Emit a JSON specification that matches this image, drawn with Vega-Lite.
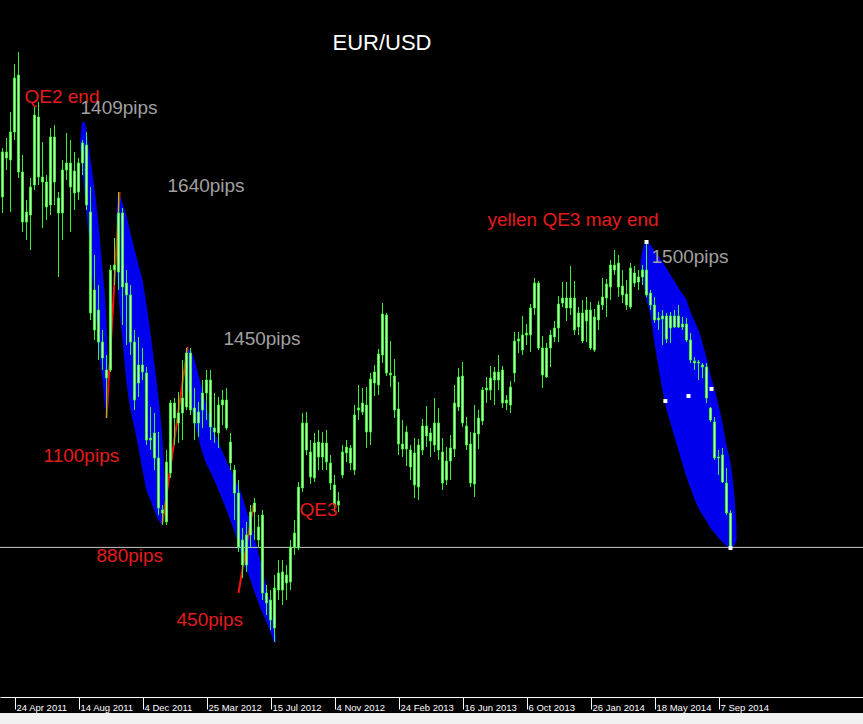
{
"$schema":"https://vega.github.io/schema/vega-lite/v6.json",
"width":863,"height":713,
"autosize":{"type":"none"},
"padding":{"left":0,"right":0,"top":0,"bottom":11},
"background":"#f0f0f0",
"config":{"view":{"fill":"#000000","stroke":null},"axis":{"grid":false}},
"datasets":{
"candles":[
{"date":"2011-04-03","open":1.4265,"high":1.4510,"low":1.4185,"close":1.4490},
{"date":"2011-04-10","open":1.4490,"high":1.4560,"low":1.4400,"close":1.4460},
{"date":"2011-04-17","open":1.4450,"high":1.4690,"low":1.4190,"close":1.4590},
{"date":"2011-04-24","open":1.4590,"high":1.4930,"low":1.4550,"close":1.4860},
{"date":"2011-05-01","open":1.4875,"high":1.4990,"low":1.4360,"close":1.4390},
{"date":"2011-05-08","open":1.4390,"high":1.4475,"low":1.4090,"close":1.4140},
{"date":"2011-05-15","open":1.4140,"high":1.4250,"low":1.4050,"close":1.4190},
{"date":"2011-05-22","open":1.4175,"high":1.4360,"low":1.4000,"close":1.4315},
{"date":"2011-05-29","open":1.4325,"high":1.4715,"low":1.4300,"close":1.4675},
{"date":"2011-06-05","open":1.4665,"high":1.4740,"low":1.4325,"close":1.4365},
{"date":"2011-06-12","open":1.4365,"high":1.4540,"low":1.4110,"close":1.4340},
{"date":"2011-06-19","open":1.4340,"high":1.4375,"low":1.4150,"close":1.4215},
{"date":"2011-06-26","open":1.4225,"high":1.4610,"low":1.4175,"close":1.4565},
{"date":"2011-07-03","open":1.4565,"high":1.4625,"low":1.4225,"close":1.4340},
{"date":"2011-07-10","open":1.4260,"high":1.4290,"low":1.3865,"close":1.4185},
{"date":"2011-07-17","open":1.4185,"high":1.4450,"low":1.4050,"close":1.4400},
{"date":"2011-07-24","open":1.4400,"high":1.4585,"low":1.4350,"close":1.4435},
{"date":"2011-07-31","open":1.4435,"high":1.4550,"low":1.4090,"close":1.4315},
{"date":"2011-08-07","open":1.4285,"high":1.4490,"low":1.4200,"close":1.4395},
{"date":"2011-08-14","open":1.4290,"high":1.4460,"low":1.4250,"close":1.4435},
{"date":"2011-08-21","open":1.4435,"high":1.4550,"low":1.4375,"close":1.4535},
{"date":"2011-08-28","open":1.4525,"high":1.4590,"low":1.4200,"close":1.4225},
{"date":"2011-09-04","open":1.4190,"high":1.4315,"low":1.3650,"close":1.3685},
{"date":"2011-09-11","open":1.3800,"high":1.3975,"low":1.3550,"close":1.3600},
{"date":"2011-09-18","open":1.3700,"high":1.3825,"low":1.3450,"close":1.3540},
{"date":"2011-09-25","open":1.3540,"high":1.3600,"low":1.3400,"close":1.3460},
{"date":"2011-10-02","open":1.3400,"high":1.3475,"low":1.3160,"close":1.3360},
{"date":"2011-10-09","open":1.3400,"high":1.3925,"low":1.3390,"close":1.3900},
{"date":"2011-10-16","open":1.3900,"high":1.4060,"low":1.3825,"close":1.3925},
{"date":"2011-10-23","open":1.3890,"high":1.4290,"low":1.3800,"close":1.4185},
{"date":"2011-10-30","open":1.4185,"high":1.4210,"low":1.3625,"close":1.3815},
{"date":"2011-11-06","open":1.3835,"high":1.3900,"low":1.3525,"close":1.3775},
{"date":"2011-11-13","open":1.3775,"high":1.3825,"low":1.3475,"close":1.3540},
{"date":"2011-11-20","open":1.3540,"high":1.3600,"low":1.3200,"close":1.3250},
{"date":"2011-11-27","open":1.3335,"high":1.3565,"low":1.3265,"close":1.3425},
{"date":"2011-12-04","open":1.3425,"high":1.3510,"low":1.3350,"close":1.3390},
{"date":"2011-12-11","open":1.3385,"high":1.3415,"low":1.3025,"close":1.3050},
{"date":"2011-12-18","open":1.3050,"high":1.3215,"low":1.3000,"close":1.3060},
{"date":"2011-12-25","open":1.3085,"high":1.3185,"low":1.2900,"close":1.2960},
{"date":"2012-01-01","open":1.2960,"high":1.3090,"low":1.2675,"close":1.2710},
{"date":"2012-01-08","open":1.2700,"high":1.2725,"low":1.2625,"close":1.2685},
{"date":"2012-01-15","open":1.2640,"high":1.3000,"low":1.2625,"close":1.2940},
{"date":"2012-01-22","open":1.2885,"high":1.3250,"low":1.2860,"close":1.3235},
{"date":"2012-01-29","open":1.3235,"high":1.3260,"low":1.3025,"close":1.3160},
{"date":"2012-02-05","open":1.3135,"high":1.3290,"low":1.3035,"close":1.3185},
{"date":"2012-02-12","open":1.3185,"high":1.3450,"low":1.3050,"close":1.3260},
{"date":"2012-02-19","open":1.3215,"high":1.3510,"low":1.3200,"close":1.3485},
{"date":"2012-02-26","open":1.3485,"high":1.3510,"low":1.3175,"close":1.3200},
{"date":"2012-03-04","open":1.3210,"high":1.3310,"low":1.3050,"close":1.3135},
{"date":"2012-03-11","open":1.3135,"high":1.3240,"low":1.3065,"close":1.3190},
{"date":"2012-03-18","open":1.3200,"high":1.3350,"low":1.3110,"close":1.3285},
{"date":"2012-03-25","open":1.3285,"high":1.3400,"low":1.3150,"close":1.3350},
{"date":"2012-04-01","open":1.3350,"high":1.3400,"low":1.3050,"close":1.3115},
{"date":"2012-04-08","open":1.3110,"high":1.3285,"low":1.3035,"close":1.3090},
{"date":"2012-04-15","open":1.3085,"high":1.3265,"low":1.3010,"close":1.3225},
{"date":"2012-04-22","open":1.3225,"high":1.3300,"low":1.3125,"close":1.3250},
{"date":"2012-04-29","open":1.3250,"high":1.3310,"low":1.3100,"close":1.3110},
{"date":"2012-05-06","open":1.3040,"high":1.3085,"low":1.2900,"close":1.2935},
{"date":"2012-05-13","open":1.2900,"high":1.2925,"low":1.2650,"close":1.2785},
{"date":"2012-05-20","open":1.2785,"high":1.2850,"low":1.2490,"close":1.2515},
{"date":"2012-05-27","open":1.2550,"high":1.2610,"low":1.2360,"close":1.2425},
{"date":"2012-06-03","open":1.2425,"high":1.2640,"low":1.2390,"close":1.2575},
{"date":"2012-06-10","open":1.2575,"high":1.2725,"low":1.2510,"close":1.2690},
{"date":"2012-06-17","open":1.2690,"high":1.2760,"low":1.2550,"close":1.2735},
{"date":"2012-06-24","open":1.2615,"high":1.2675,"low":1.2510,"close":1.2550},
{"date":"2012-07-01","open":1.2675,"high":1.2700,"low":1.2250,"close":1.2285},
{"date":"2012-07-08","open":1.2285,"high":1.2325,"low":1.2175,"close":1.2235},
{"date":"2012-07-15","open":1.2250,"high":1.2300,"low":1.2100,"close":1.2150},
{"date":"2012-07-22","open":1.2110,"high":1.2375,"low":1.2040,"close":1.2310},
{"date":"2012-07-29","open":1.2300,"high":1.2450,"low":1.2250,"close":1.2385},
{"date":"2012-08-05","open":1.2300,"high":1.2450,"low":1.2225,"close":1.2390},
{"date":"2012-08-12","open":1.2375,"high":1.2425,"low":1.2250,"close":1.2335},
{"date":"2012-08-19","open":1.2340,"high":1.2550,"low":1.2300,"close":1.2515},
{"date":"2012-08-26","open":1.2515,"high":1.2650,"low":1.2475,"close":1.2585},
{"date":"2012-09-02","open":1.2510,"high":1.2840,"low":1.2500,"close":1.2815},
{"date":"2012-09-09","open":1.2810,"high":1.3185,"low":1.2790,"close":1.3135},
{"date":"2012-09-16","open":1.3135,"high":1.3190,"low":1.2975,"close":1.3000},
{"date":"2012-09-23","open":1.2990,"high":1.3050,"low":1.2830,"close":1.2865},
{"date":"2012-09-30","open":1.2860,"high":1.3085,"low":1.2840,"close":1.3035},
{"date":"2012-10-07","open":1.3040,"high":1.3100,"low":1.2900,"close":1.2965},
{"date":"2012-10-14","open":1.2965,"high":1.3090,"low":1.2900,"close":1.3035},
{"date":"2012-10-21","open":1.3035,"high":1.3100,"low":1.2900,"close":1.2940},
{"date":"2012-10-28","open":1.2935,"high":1.2975,"low":1.2800,"close":1.2835},
{"date":"2012-11-04","open":1.2825,"high":1.2875,"low":1.2690,"close":1.2725},
{"date":"2012-11-11","open":1.2725,"high":1.2790,"low":1.2690,"close":1.2745},
{"date":"2012-11-18","open":1.2875,"high":1.3025,"low":1.2860,"close":1.2990},
{"date":"2012-11-25","open":1.2985,"high":1.3050,"low":1.2940,"close":1.3015},
{"date":"2012-12-02","open":1.3010,"high":1.3025,"low":1.2900,"close":1.2935},
{"date":"2012-12-09","open":1.2900,"high":1.3225,"low":1.2875,"close":1.3175},
{"date":"2012-12-16","open":1.3200,"high":1.3325,"low":1.3150,"close":1.3210},
{"date":"2012-12-23","open":1.3190,"high":1.3310,"low":1.3175,"close":1.3235},
{"date":"2012-12-30","open":1.3225,"high":1.3315,"low":1.3010,"close":1.3090},
{"date":"2013-01-06","open":1.3090,"high":1.3385,"low":1.3025,"close":1.3355},
{"date":"2013-01-13","open":1.3335,"high":1.3425,"low":1.3270,"close":1.3390},
{"date":"2013-01-20","open":1.3325,"high":1.3505,"low":1.3275,"close":1.3480},
{"date":"2013-01-27","open":1.3475,"high":1.3735,"low":1.3435,"close":1.3680},
{"date":"2013-02-03","open":1.3675,"high":1.3685,"low":1.3370,"close":1.3385},
{"date":"2013-02-10","open":1.3385,"high":1.3545,"low":1.3315,"close":1.3375},
{"date":"2013-02-17","open":1.3370,"high":1.3455,"low":1.3160,"close":1.3200},
{"date":"2013-02-24","open":1.3205,"high":1.3340,"low":1.2975,"close":1.3030},
{"date":"2013-03-03","open":1.3030,"high":1.3150,"low":1.2965,"close":1.3005},
{"date":"2013-03-10","open":1.3005,"high":1.3120,"low":1.2920,"close":1.3090},
{"date":"2013-03-17","open":1.3000,"high":1.3025,"low":1.2850,"close":1.2915},
{"date":"2013-03-24","open":1.2985,"high":1.3060,"low":1.2760,"close":1.2825},
{"date":"2013-03-31","open":1.2815,"high":1.3055,"low":1.2750,"close":1.3025},
{"date":"2013-04-07","open":1.3000,"high":1.3155,"low":1.2975,"close":1.3120},
{"date":"2013-04-14","open":1.3120,"high":1.3220,"low":1.3015,"close":1.3070},
{"date":"2013-04-21","open":1.3045,"high":1.3110,"low":1.2965,"close":1.3085},
{"date":"2013-04-28","open":1.3025,"high":1.3260,"low":1.2990,"close":1.3135},
{"date":"2013-05-05","open":1.3135,"high":1.3210,"low":1.2950,"close":1.3000},
{"date":"2013-05-12","open":1.2990,"high":1.3060,"low":1.2800,"close":1.2835},
{"date":"2013-05-19","open":1.2850,"high":1.3015,"low":1.2825,"close":1.2945},
{"date":"2013-05-26","open":1.2945,"high":1.3075,"low":1.2850,"close":1.3010},
{"date":"2013-06-02","open":1.3005,"high":1.3325,"low":1.2965,"close":1.3235},
{"date":"2013-06-09","open":1.3215,"high":1.3410,"low":1.3195,"close":1.3365},
{"date":"2013-06-16","open":1.3370,"high":1.3440,"low":1.3115,"close":1.3135},
{"date":"2013-06-23","open":1.3120,"high":1.3165,"low":1.3000,"close":1.3025},
{"date":"2013-06-30","open":1.3030,"high":1.3090,"low":1.2815,"close":1.2835},
{"date":"2013-07-07","open":1.2830,"high":1.3225,"low":1.2765,"close":1.3085},
{"date":"2013-07-14","open":1.3080,"high":1.3200,"low":1.3005,"close":1.3160},
{"date":"2013-07-21","open":1.3145,"high":1.3315,"low":1.3125,"close":1.3300},
{"date":"2013-07-28","open":1.3300,"high":1.3365,"low":1.3235,"close":1.3310},
{"date":"2013-08-04","open":1.3300,"high":1.3420,"low":1.3250,"close":1.3360},
{"date":"2013-08-11","open":1.3350,"high":1.3415,"low":1.3225,"close":1.3390},
{"date":"2013-08-18","open":1.3390,"high":1.3475,"low":1.3300,"close":1.3350},
{"date":"2013-08-25","open":1.3400,"high":1.3420,"low":1.3210,"close":1.3235},
{"date":"2013-09-01","open":1.3235,"high":1.3275,"low":1.3200,"close":1.3250},
{"date":"2013-09-08","open":1.3225,"high":1.3345,"low":1.3185,"close":1.3315},
{"date":"2013-09-15","open":1.3385,"high":1.3590,"low":1.3340,"close":1.3545},
{"date":"2013-09-22","open":1.3545,"high":1.3590,"low":1.3485,"close":1.3555},
{"date":"2013-09-29","open":1.3500,"high":1.3670,"low":1.3475,"close":1.3575},
{"date":"2013-10-06","open":1.3575,"high":1.3630,"low":1.3525,"close":1.3585},
{"date":"2013-10-13","open":1.3575,"high":1.3730,"low":1.3490,"close":1.3710},
{"date":"2013-10-20","open":1.3710,"high":1.3860,"low":1.3675,"close":1.3835},
{"date":"2013-10-27","open":1.3835,"high":1.3845,"low":1.3500,"close":1.3510},
{"date":"2013-11-03","open":1.3510,"high":1.3570,"low":1.3310,"close":1.3375},
{"date":"2013-11-10","open":1.3365,"high":1.3535,"low":1.3360,"close":1.3510},
{"date":"2013-11-17","open":1.3510,"high":1.3600,"low":1.3415,"close":1.3575},
{"date":"2013-11-24","open":1.3565,"high":1.3645,"low":1.3540,"close":1.3610},
{"date":"2013-12-01","open":1.3610,"high":1.3770,"low":1.3540,"close":1.3730},
{"date":"2013-12-08","open":1.3735,"high":1.3840,"low":1.3715,"close":1.3760},
{"date":"2013-12-15","open":1.3760,"high":1.3840,"low":1.3645,"close":1.3710},
{"date":"2013-12-22","open":1.3710,"high":1.3920,"low":1.3675,"close":1.3760},
{"date":"2013-12-29","open":1.3760,"high":1.3845,"low":1.3575,"close":1.3600},
{"date":"2014-01-05","open":1.3615,"high":1.3715,"low":1.3575,"close":1.3685},
{"date":"2014-01-12","open":1.3685,"high":1.3750,"low":1.3535,"close":1.3545},
{"date":"2014-01-19","open":1.3645,"high":1.3765,"low":1.3540,"close":1.3700},
{"date":"2014-01-26","open":1.3700,"high":1.3740,"low":1.3500,"close":1.3510},
{"date":"2014-02-02","open":1.3500,"high":1.3705,"low":1.3490,"close":1.3665},
{"date":"2014-02-09","open":1.3650,"high":1.3745,"low":1.3600,"close":1.3725},
{"date":"2014-02-16","open":1.3725,"high":1.3860,"low":1.3700,"close":1.3765},
{"date":"2014-02-23","open":1.3760,"high":1.3855,"low":1.3665,"close":1.3830},
{"date":"2014-03-02","open":1.3815,"high":1.3950,"low":1.3750,"close":1.3925},
{"date":"2014-03-09","open":1.3925,"high":1.4000,"low":1.3875,"close":1.3900},
{"date":"2014-03-16","open":1.3935,"high":1.3975,"low":1.3765,"close":1.3815},
{"date":"2014-03-23","open":1.3820,"high":1.3900,"low":1.3735,"close":1.3775},
{"date":"2014-03-30","open":1.3780,"high":1.3850,"low":1.3700,"close":1.3725},
{"date":"2014-04-06","open":1.3715,"high":1.3935,"low":1.3705,"close":1.3910},
{"date":"2014-04-13","open":1.3885,"high":1.3920,"low":1.3815,"close":1.3835},
{"date":"2014-04-20","open":1.3840,"high":1.3900,"low":1.3800,"close":1.3865},
{"date":"2014-04-27","open":1.3865,"high":1.3925,"low":1.3825,"close":1.3900},
{"date":"2014-05-04","open":1.3900,"high":1.4035,"low":1.3765,"close":1.3775},
{"date":"2014-05-11","open":1.3785,"high":1.3800,"low":1.3700,"close":1.3725},
{"date":"2014-05-18","open":1.3725,"high":1.3765,"low":1.3635,"close":1.3650},
{"date":"2014-05-25","open":1.3660,"high":1.3690,"low":1.3600,"close":1.3650},
{"date":"2014-06-01","open":1.3655,"high":1.3700,"low":1.3525,"close":1.3670},
{"date":"2014-06-08","open":1.3670,"high":1.3685,"low":1.3535,"close":1.3555},
{"date":"2014-06-15","open":1.3610,"high":1.3690,"low":1.3535,"close":1.3670},
{"date":"2014-06-22","open":1.3670,"high":1.3700,"low":1.3610,"close":1.3615},
{"date":"2014-06-29","open":1.3615,"high":1.3725,"low":1.3610,"close":1.3670},
{"date":"2014-07-06","open":1.3630,"high":1.3665,"low":1.3600,"close":1.3615},
{"date":"2014-07-13","open":1.3630,"high":1.3660,"low":1.3540,"close":1.3550},
{"date":"2014-07-20","open":1.3550,"high":1.3585,"low":1.3435,"close":1.3450},
{"date":"2014-07-27","open":1.3445,"high":1.3465,"low":1.3400,"close":1.3435},
{"date":"2014-08-03","open":1.3440,"high":1.3450,"low":1.3350,"close":1.3435},
{"date":"2014-08-10","open":1.3425,"high":1.3435,"low":1.3360,"close":1.3415},
{"date":"2014-08-17","open":1.3415,"high":1.3435,"low":1.3235,"close":1.3260},
{"date":"2014-08-24","open":1.3210,"high":1.3215,"low":1.3140,"close":1.3150},
{"date":"2014-08-31","open":1.3140,"high":1.3165,"low":1.2950,"close":1.2960},
{"date":"2014-09-07","open":1.2965,"high":1.3000,"low":1.2875,"close":1.2960},
{"date":"2014-09-14","open":1.2975,"high":1.3010,"low":1.2835,"close":1.2840},
{"date":"2014-09-21","open":1.2835,"high":1.2910,"low":1.2675,"close":1.2685},
{"date":"2014-09-28","open":1.2685,"high":1.2700,"low":1.2505,"close":1.2510}
],
"ellipses":[
{"shape":"A","date":"2011-08-17","upper":1.4540,"lower":1.4500},
{"shape":"A","date":"2011-08-21","upper":1.4640,"lower":1.4400},
{"shape":"A","date":"2011-08-24T12:00:00Z","upper":1.4640,"lower":1.4280},
{"shape":"A","date":"2011-08-28","upper":1.4600,"lower":1.4190},
{"shape":"A","date":"2011-09-04","upper":1.4450,"lower":1.3960},
{"shape":"A","date":"2011-09-11","upper":1.4310,"lower":1.3750},
{"shape":"A","date":"2011-09-18","upper":1.4125,"lower":1.3525},
{"shape":"A","date":"2011-09-25","upper":1.3910,"lower":1.3350},
{"shape":"A","date":"2011-10-02","upper":1.3650,"lower":1.3190},
{"shape":"A","date":"2011-10-05T12:00:00Z","upper":1.3375,"lower":1.3225},
{"shape":"B","date":"2011-10-19T12:00:00Z","upper":1.4175,"lower":1.3950},
{"shape":"B","date":"2011-10-23","upper":1.4285,"lower":1.3775},
{"shape":"B","date":"2011-10-30","upper":1.4235,"lower":1.3550},
{"shape":"B","date":"2011-11-06","upper":1.4170,"lower":1.3340},
{"shape":"B","date":"2011-11-13","upper":1.4085,"lower":1.3200},
{"shape":"B","date":"2011-11-20","upper":1.4005,"lower":1.3110},
{"shape":"B","date":"2011-11-27","upper":1.3925,"lower":1.3010},
{"shape":"B","date":"2011-12-04","upper":1.3850,"lower":1.2900},
{"shape":"B","date":"2011-12-11","upper":1.3725,"lower":1.2800},
{"shape":"B","date":"2011-12-18","upper":1.3585,"lower":1.2750},
{"shape":"B","date":"2011-12-25","upper":1.3425,"lower":1.2695},
{"shape":"B","date":"2012-01-01","upper":1.3260,"lower":1.2650},
{"shape":"B","date":"2012-01-08","upper":1.3050,"lower":1.2630},
{"shape":"B","date":"2012-01-12","upper":1.2850,"lower":1.2725},
{"shape":"C","date":"2012-02-16","upper":1.3470,"lower":1.3420},
{"shape":"C","date":"2012-02-19","upper":1.3505,"lower":1.3360},
{"shape":"C","date":"2012-02-26","upper":1.3500,"lower":1.3225},
{"shape":"C","date":"2012-03-04","upper":1.3450,"lower":1.3145},
{"shape":"C","date":"2012-03-11","upper":1.3375,"lower":1.3060},
{"shape":"C","date":"2012-03-18","upper":1.3295,"lower":1.2985},
{"shape":"C","date":"2012-03-25","upper":1.3220,"lower":1.2930},
{"shape":"C","date":"2012-04-01","upper":1.3150,"lower":1.2890},
{"shape":"C","date":"2012-04-08","upper":1.3090,"lower":1.2845},
{"shape":"C","date":"2012-04-15","upper":1.3040,"lower":1.2800},
{"shape":"C","date":"2012-04-22","upper":1.2990,"lower":1.2750},
{"shape":"C","date":"2012-04-29","upper":1.2945,"lower":1.2700},
{"shape":"C","date":"2012-05-06","upper":1.2905,"lower":1.2645},
{"shape":"C","date":"2012-05-13","upper":1.2860,"lower":1.2590},
{"shape":"C","date":"2012-05-20","upper":1.2815,"lower":1.2520},
{"shape":"C","date":"2012-05-27","upper":1.2765,"lower":1.2450},
{"shape":"C","date":"2012-06-03","upper":1.2700,"lower":1.2400},
{"shape":"C","date":"2012-06-10","upper":1.2635,"lower":1.2350},
{"shape":"C","date":"2012-06-17","upper":1.2560,"lower":1.2290},
{"shape":"C","date":"2012-06-24","upper":1.2485,"lower":1.2235},
{"shape":"C","date":"2012-07-01","upper":1.2400,"lower":1.2185},
{"shape":"C","date":"2012-07-08","upper":1.2310,"lower":1.2140},
{"shape":"C","date":"2012-07-15","upper":1.2220,"lower":1.2090},
{"shape":"C","date":"2012-07-22","upper":1.2110,"lower":1.2040},
{"shape":"C","date":"2012-07-25","upper":1.2060,"lower":1.2035},
{"shape":"D","date":"2014-04-24","upper":1.3950,"lower":1.3910},
{"shape":"D","date":"2014-04-27","upper":1.4000,"lower":1.3850},
{"shape":"D","date":"2014-04-30T12:00:00Z","upper":1.4030,"lower":1.3800},
{"shape":"D","date":"2014-05-04","upper":1.4040,"lower":1.3750},
{"shape":"D","date":"2014-05-11","upper":1.4025,"lower":1.3675},
{"shape":"D","date":"2014-05-18","upper":1.3995,"lower":1.3535},
{"shape":"D","date":"2014-05-25","upper":1.3970,"lower":1.3415},
{"shape":"D","date":"2014-06-01","upper":1.3940,"lower":1.3300},
{"shape":"D","date":"2014-06-08","upper":1.3910,"lower":1.3205},
{"shape":"D","date":"2014-06-15","upper":1.3875,"lower":1.3135},
{"shape":"D","date":"2014-06-22","upper":1.3845,"lower":1.3065},
{"shape":"D","date":"2014-06-29","upper":1.3810,"lower":1.3000},
{"shape":"D","date":"2014-07-06","upper":1.3780,"lower":1.2930},
{"shape":"D","date":"2014-07-13","upper":1.3750,"lower":1.2865},
{"shape":"D","date":"2014-07-20","upper":1.3690,"lower":1.2810},
{"shape":"D","date":"2014-07-27","upper":1.3645,"lower":1.2755},
{"shape":"D","date":"2014-08-03","upper":1.3600,"lower":1.2710},
{"shape":"D","date":"2014-08-10","upper":1.3535,"lower":1.2675},
{"shape":"D","date":"2014-08-17","upper":1.3460,"lower":1.2645},
{"shape":"D","date":"2014-08-24","upper":1.3375,"lower":1.2610},
{"shape":"D","date":"2014-08-31","upper":1.3305,"lower":1.2585},
{"shape":"D","date":"2014-09-07","upper":1.3225,"lower":1.2560},
{"shape":"D","date":"2014-09-14","upper":1.3135,"lower":1.2540},
{"shape":"D","date":"2014-09-21","upper":1.3025,"lower":1.2520},
{"shape":"D","date":"2014-09-28","upper":1.2935,"lower":1.2510},
{"shape":"D","date":"2014-10-05","upper":1.2765,"lower":1.2525},
{"shape":"D","date":"2014-10-08T12:00:00Z","upper":1.2610,"lower":1.2550}
],
"redlines":[
{"seg":"A","date":"2011-10-02","price":1.3160},
{"seg":"A","date":"2011-10-25","price":1.4290},
{"seg":"B","date":"2012-01-08","price":1.2635},
{"seg":"B","date":"2012-02-21","price":1.3515},
{"seg":"C","date":"2012-05-20","price":1.2285},
{"seg":"C","date":"2012-06-15","price":1.2725}
],
"level":[
{"date":"2011-03-29T15:00:00Z","price":1.2513},
{"date":"2015-05-17T21:00:00Z","price":1.2513}
],
"handles":[
{"date":"2014-05-04","price":1.4040},
{"date":"2014-09-28","price":1.2510},
{"date":"2014-06-06","price":1.3245},
{"date":"2014-07-16T12:00:00Z","price":1.3270},
{"date":"2014-08-25T18:00:00Z","price":1.3305}
],
"labels":[
{"label":"QE2 end","date":"2011-05-11T12:00:00Z","price":1.4735,"kind":"event"},
{"label":"1409pips","date":"2011-08-17T12:00:00Z","price":1.4680,"kind":"decline"},
{"label":"1640pips","date":"2012-01-16T18:00:00Z","price":1.4290,"kind":"decline"},
{"label":"1450pips","date":"2012-04-23T18:00:00Z","price":1.3525,"kind":"decline"},
{"label":"1100pips","date":"2011-06-13T18:00:00Z","price":1.2940,"kind":"rally"},
{"label":"880pips","date":"2011-09-14T12:00:00Z","price":1.2440,"kind":"rally"},
{"label":"450pips","date":"2012-02-01T12:00:00Z","price":1.2120,"kind":"rally"},
{"label":"QE3","date":"2012-09-03T18:00:00Z","price":1.2670,"kind":"event"},
{"label":"yellen QE3 may end","date":"2013-07-29T18:00:00Z","price":1.4120,"kind":"event"},
{"label":"1500pips","date":"2014-05-12T18:00:00Z","price":1.3935,"kind":"decline"}
],
"title":[
{"label":"EUR/USD","date":"2012-10-31T12:00:00Z","price":1.5000}
]
},
"encoding":{
"x":{"field":"date","type":"temporal",
"scale":{"type":"utc","domain":[{"year":2011,"month":"mar","date":29,"hours":15,"utc":true},{"year":2015,"month":"may","date":17,"hours":21,"utc":true}],"nice":false,"padding":0},
"axis":{"orient":"bottom","title":null,"offset":-16,
"values":[{"year":2011,"month":"apr","date":24,"utc":true},{"year":2011,"month":"aug","date":14,"utc":true},{"year":2011,"month":"dec","date":4,"utc":true},{"year":2012,"month":"mar","date":25,"utc":true},{"year":2012,"month":"jul","date":15,"utc":true},{"year":2012,"month":"nov","date":4,"utc":true},{"year":2013,"month":"feb","date":24,"utc":true},{"year":2013,"month":"jun","date":16,"utc":true},{"year":2013,"month":"oct","date":6,"utc":true},{"year":2014,"month":"jan","date":26,"utc":true},{"year":2014,"month":"may","date":18,"utc":true},{"year":2014,"month":"sep","date":7,"utc":true}],
"labelExpr":"utcFormat(datum.value, '%-d %b %Y')","labelAlign":"left","labelOffset":1.5,"labelPadding":-7,"labelColor":"#ffffff","labelFont":"Liberation Sans","labelFontSize":9.5,"tickColor":"#ffffff","tickSize":12,"domainColor":"#ffffff","domainWidth":1,"labelOverlap":false,"labelBound":false,"labelFlush":false}}
},
"layer":[
{"data":{"name":"ellipses"},"mark":{"type":"area","color":"#0000ee","interpolate":"monotone","opacity":1},
"encoding":{"y":{"field":"upper","type":"quantitative","scale":{"domain":[1.1685,1.525],"nice":false,"zero":false,"padding":0},"axis":null},"y2":{"field":"lower"},"detail":{"field":"shape"}}},
{"data":{"name":"level"},"mark":{"type":"line","color":"#c8c8c8","strokeWidth":1},
"encoding":{"y":{"field":"price","type":"quantitative","scale":{"domain":[1.1685,1.525],"nice":false,"zero":false,"padding":0},"axis":null}}},
{"data":{"name":"redlines"},"mark":{"type":"line","color":"#ff1010","strokeWidth":2},
"encoding":{"y":{"field":"price","type":"quantitative","scale":{"domain":[1.1685,1.525],"nice":false,"zero":false,"padding":0},"axis":null},"detail":{"field":"seg"}}},
{"data":{"name":"candles"},"mark":{"type":"rule","color":"#38f038","strokeWidth":1},
"encoding":{"y":{"field":"low","type":"quantitative","scale":{"domain":[1.1685,1.525],"nice":false,"zero":false,"padding":0},"axis":null},"y2":{"field":"high"}}},
{"data":{"name":"candles"},"mark":{"type":"bar","size":2,"fill":"#c8ffb8","stroke":"#38f038","strokeWidth":1},
"encoding":{"y":{"field":"open","type":"quantitative","scale":{"domain":[1.1685,1.525],"nice":false,"zero":false,"padding":0},"axis":null},"y2":{"field":"close"}}},
{"data":{"name":"handles"},"mark":{"type":"point","shape":"square","size":16,"filled":true,"color":"#ffffff","opacity":1},
"encoding":{"y":{"field":"price","type":"quantitative","scale":{"domain":[1.1685,1.525],"nice":false,"zero":false,"padding":0},"axis":null}}},
{"data":{"name":"labels"},"mark":{"type":"text","align":"left","baseline":"alphabetic","font":"Liberation Sans","fontSize":19},
"encoding":{"y":{"field":"price","type":"quantitative","scale":{"domain":[1.1685,1.525],"nice":false,"zero":false,"padding":0},"axis":null},"text":{"field":"label"},
"color":{"field":"kind","type":"nominal","scale":{"domain":["event","decline","rally"],"range":["#e41b1b","#a0a0a0","#e41b1b"]},"legend":null}}},
{"data":{"name":"title"},"mark":{"type":"text","align":"left","baseline":"alphabetic","font":"Liberation Sans","fontSize":22,"color":"#ffffff"},
"encoding":{"y":{"field":"price","type":"quantitative","scale":{"domain":[1.1685,1.525],"nice":false,"zero":false,"padding":0},"axis":null},"text":{"field":"label"}}}
]
}
